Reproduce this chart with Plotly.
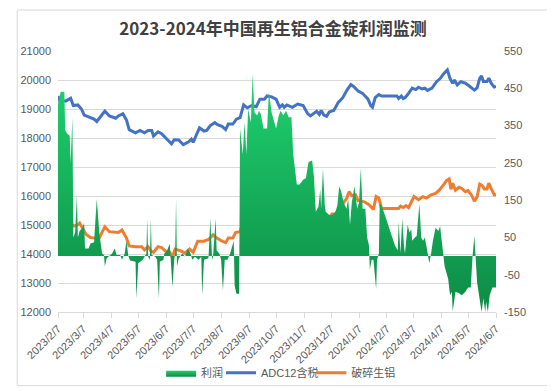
import plotly.graph_objects as go

# ---------------- data ----------------
adc_dates = ["2023-02-07","2023-02-09","2023-02-16","2023-02-21","2023-02-24","2023-03-01","2023-03-05","2023-03-08",
             "2023-03-13","2023-03-19","2023-03-22","2023-03-27","2023-03-31","2023-04-05","2023-04-12","2023-04-15",
             "2023-04-20","2023-04-24","2023-04-27","2023-05-04","2023-05-09","2023-05-14","2023-05-18","2023-05-22",
             "2023-05-24","2023-05-29","2023-06-02","2023-06-06","2023-06-13","2023-06-16","2023-06-21","2023-06-26",
             "2023-07-02","2023-07-05","2023-07-07","2023-07-10","2023-07-14","2023-07-19","2023-07-22","2023-07-26",
             "2023-07-31","2023-08-03","2023-08-08","2023-08-12","2023-08-15","2023-08-20","2023-08-24","2023-08-28",
             "2023-09-01","2023-09-05","2023-09-10","2023-09-15","2023-09-19","2023-09-24","2023-09-27","2023-10-02",
             "2023-10-07","2023-10-11","2023-10-14","2023-10-16","2023-10-19","2023-10-25","2023-10-31","2023-11-06",
             "2023-11-11","2023-11-14","2023-11-18","2023-11-21","2023-11-24","2023-11-26","2023-11-29","2023-12-02",
             "2023-12-05","2023-12-10","2023-12-15","2023-12-20","2023-12-25","2023-12-29","2024-01-01","2024-01-06",
             "2024-01-11","2024-01-17","2024-01-20","2024-01-22","2024-01-25","2024-01-29","2024-02-01","2024-02-18",
             "2024-02-20","2024-02-23","2024-02-25","2024-02-27","2024-03-01","2024-03-06","2024-03-10","2024-03-13",
             "2024-03-17","2024-03-20","2024-03-23","2024-03-28","2024-04-02","2024-04-06","2024-04-10","2024-04-14",
             "2024-04-17","2024-04-20","2024-04-22","2024-04-25","2024-04-29","2024-05-04","2024-05-08","2024-05-11",
             "2024-05-14","2024-05-17","2024-05-20","2024-05-22","2024-05-24","2024-05-28","2024-05-30","2024-06-02",
             "2024-06-05","2024-06-07"]
adc_values = [19450,19280,19280,19370,19120,19140,19000,18790,
              18730,18650,18570,18790,18930,18760,18680,18760,
              18840,18620,18290,18180,18260,18180,18260,18260,
              18070,18210,18150,18020,17800,17940,17930,17770,
              17870,17960,17850,18070,18350,18240,18260,18430,
              18530,18460,18400,18290,18480,18480,18650,18700,
              19140,19040,19120,19080,19340,19340,19450,19420,
              19340,19060,19140,19060,19140,19060,19170,19120,
              18840,18760,18840,18920,18810,18950,18790,18750,
              18900,18950,19230,19390,19670,19840,19780,19620,
              19540,19340,19120,19060,19390,19500,19450,19450,
              19360,19450,19360,19390,19500,19720,19670,19750,
              19690,19720,19640,19720,19940,20050,20220,20350,
              20050,19890,20000,19830,19940,19890,19800,19730,
              19650,19730,20060,20140,19950,19950,20060,19870,
              19760,19780]

scrap_dates = ["2023-02-07","2023-02-09","2023-02-16","2023-02-21","2023-02-23","2023-02-28","2023-03-03","2023-03-06",
               "2023-03-10","2023-03-15","2023-03-20","2023-03-23","2023-03-27","2023-03-31","2023-04-05","2023-04-12",
               "2023-04-15","2023-04-19","2023-04-24","2023-04-27","2023-05-04","2023-05-11","2023-05-14","2023-05-18",
               "2023-05-21","2023-05-24","2023-05-29","2023-06-02","2023-06-06","2023-06-11","2023-06-14","2023-06-17",
               "2023-06-23","2023-06-28","2023-07-03","2023-07-07","2023-07-12","2023-07-19","2023-07-24","2023-07-29",
               "2023-08-01","2023-08-07","2023-08-12","2023-08-15","2023-08-20","2023-08-23","2023-08-28","2023-09-01",
               "2023-09-04","2023-09-10","2023-09-13","2023-09-17","2023-09-20","2023-10-06","2023-10-09","2023-10-12",
               "2023-10-16","2023-10-19","2023-10-23","2023-10-28","2023-10-31","2023-11-04","2023-11-09","2023-11-14",
               "2023-11-18","2023-11-21","2023-11-24","2023-11-28","2023-12-01","2023-12-05","2023-12-08","2023-12-12",
               "2023-12-15","2023-12-20","2023-12-24","2023-12-27","2023-12-30","2024-01-03","2024-01-06","2024-01-13",
               "2024-01-18","2024-01-23","2024-01-26","2024-01-29","2024-02-01","2024-02-20","2024-02-22","2024-02-25",
               "2024-02-28","2024-03-02","2024-03-05","2024-03-08","2024-03-13","2024-03-18","2024-03-22","2024-03-27",
               "2024-04-01","2024-04-05","2024-04-10","2024-04-13","2024-04-16","2024-04-18","2024-04-20","2024-04-23",
               "2024-04-27","2024-04-30","2024-05-04","2024-05-07","2024-05-11","2024-05-14","2024-05-17","2024-05-20",
               "2024-05-23","2024-05-25","2024-05-28","2024-05-30","2024-06-02","2024-06-05","2024-06-07"]
scrap_values = [15380,15160,15160,15270,14960,14990,15070,14910,
                14680,14570,14550,14450,14690,14940,14770,14750,
                14740,14830,14550,14280,14250,14250,14140,14250,
                14110,14060,14250,14220,14110,14060,13890,14170,
                14110,14030,14170,14060,14440,14440,14500,14660,
                14580,14460,14390,14550,14550,14740,14770,15160,
                14850,14850,14940,14850,15160,15160,14990,14850,
                14940,14830,14940,15380,15460,15430,15270,15050,
                15070,15350,15160,15160,15240,15270,15380,15380,
                15540,15760,15900,16150,16010,16040,15840,15800,
                15700,15540,15980,15930,15570,15570,15650,15600,
                15670,15600,15820,15980,15870,15980,15930,16040,
                16090,16200,16390,16530,16590,16230,16440,16200,
                16300,16260,16150,16190,16020,15820,15970,16410,
                16350,16240,16240,16440,16240,16040,16040]

profit_dates = ["2023-02-07","2023-02-10","2023-02-14","2023-02-15","2023-02-17","2023-02-20","2023-02-21","2023-02-23",
                "2023-02-24","2023-02-26","2023-02-28","2023-03-01","2023-03-03","2023-03-06","2023-03-08","2023-03-09",
                "2023-03-13","2023-03-15","2023-03-19","2023-03-22","2023-03-25","2023-03-28","2023-03-30","2023-03-31",
                "2023-04-02","2023-04-05","2023-04-08","2023-04-11","2023-04-13","2023-04-17","2023-04-19","2023-04-22",
                "2023-04-24","2023-04-26","2023-04-28","2023-05-04","2023-05-05","2023-05-07","2023-05-12","2023-05-14",
                "2023-05-16","2023-05-17","2023-05-18","2023-05-20","2023-05-21","2023-05-22","2023-05-26","2023-05-28",
                "2023-05-30","2023-05-31","2023-06-04","2023-06-05","2023-06-08","2023-06-11","2023-06-12","2023-06-14",
                "2023-06-16","2023-06-17","2023-06-18","2023-06-19","2023-06-21","2023-06-25","2023-06-28","2023-07-01",
                "2023-07-04","2023-07-06","2023-07-09","2023-07-13","2023-07-16","2023-07-17","2023-07-19","2023-07-24",
                "2023-07-26","2023-07-28","2023-07-29","2023-08-01","2023-08-02","2023-08-05","2023-08-07","2023-08-09",
                "2023-08-11","2023-08-14","2023-08-17","2023-08-19","2023-08-21","2023-08-22","2023-08-24","2023-08-27",
                "2023-08-28","2023-08-31","2023-09-02","2023-09-04","2023-09-06","2023-09-09","2023-09-11","2023-09-13",
                "2023-09-16","2023-09-18","2023-09-20","2023-09-23","2023-09-27","2023-09-29","2023-10-02","2023-10-07",
                "2023-10-10","2023-10-12","2023-10-15","2023-10-18","2023-10-21","2023-10-24","2023-10-26","2023-10-30",
                "2023-11-02","2023-11-06","2023-11-09","2023-11-12","2023-11-16","2023-11-18","2023-11-20","2023-11-23",
                "2023-11-25","2023-11-26","2023-11-28","2023-11-30","2023-12-01","2023-12-05","2023-12-08","2023-12-12",
                "2023-12-14","2023-12-16","2023-12-18","2023-12-21","2023-12-24","2023-12-26","2023-12-28","2023-12-30",
                "2024-01-02","2024-01-05","2024-01-07","2024-01-09","2024-01-11","2024-01-14","2024-01-16","2024-01-18",
                "2024-01-19","2024-01-21","2024-01-23","2024-01-26","2024-01-27","2024-01-29","2024-01-30","2024-02-01",
                "2024-02-03","2024-02-06","2024-02-10","2024-02-13","2024-02-16","2024-02-19","2024-02-20","2024-02-22",
                "2024-02-24","2024-02-26","2024-02-27","2024-03-01","2024-03-03","2024-03-05","2024-03-06","2024-03-09",
                "2024-03-11","2024-03-14","2024-03-16","2024-03-18","2024-03-20","2024-03-22","2024-03-23","2024-03-25",
                "2024-03-27","2024-03-29","2024-04-01","2024-04-04","2024-04-06","2024-04-08","2024-04-10","2024-04-11",
                "2024-04-13","2024-04-15","2024-04-17","2024-04-19","2024-04-20","2024-04-22","2024-04-23","2024-04-27",
                "2024-04-30","2024-05-04","2024-05-07","2024-05-10","2024-05-11","2024-05-12","2024-05-14","2024-05-15",
                "2024-05-17","2024-05-20","2024-05-22","2024-05-24","2024-05-26","2024-05-27","2024-05-29","2024-05-31",
                "2024-06-03","2024-06-07"]
profit_values = [407,441,441,338,329,323,248,372,
                 50,63,162,50,67,76,89,20,
                 20,34,37,153,58,7,3,-28,
                 -6,0,7,20,3,3,-10,7,
                 41,0,-12,-15,-114,-19,-10,-2,
                 7,101,-2,-10,101,3,-2,-10,
                 -114,-15,-10,7,15,33,-10,-83,
                 -10,7,153,-28,-6,7,-2,20,
                 7,-10,-2,-10,-2,-105,-10,-6,
                 101,-10,-2,101,15,7,-10,-92,
                 -10,-10,7,28,41,-79,-101,-101,
                 342,273,359,273,394,359,488,385,
                 377,390,381,342,342,441,385,342,
                 377,390,377,390,372,372,273,192,
                 192,205,209,252,256,213,119,132,
                 179,127,235,136,119,110,110,119,
                 136,187,175,144,127,153,84,144,
                 187,127,144,235,127,127,50,30,
                 -36,-10,-10,-88,-10,7,140,136,
                 123,101,71,50,28,15,93,7,
                 101,24,7,84,63,71,41,50,
                 54,140,50,41,50,24,7,-19,
                 7,41,76,67,80,41,0,-28,
                 -45,-62,-105,-96,-148,-105,-96,-100,
                 -105,-96,-84,-84,-36,0,54,0,
                 -70,-118,-150,-113,-150,-122,-150,-105,
                 -84,-84]

tick_dates = ["2023-02-07","2023-03-07","2023-04-07","2023-05-07","2023-06-07","2023-07-07","2023-08-07",
              "2023-09-07","2023-10-07","2023-11-07","2023-12-07","2024-01-07","2024-02-07","2024-03-07",
              "2024-04-07","2024-05-07","2024-06-07"]
tick_labels = ["2023/2/7","2023/3/7","2023/4/7","2023/5/7","2023/6/7","2023/7/7","2023/8/7",
               "2023/9/7","2023/10/7","2023/11/7","2023/12/7","2024/1/7","2024/2/7","2024/3/7",
               "2024/4/7","2024/5/7","2024/6/7"]
left_ticks = [12000, 13000, 14000, 15000, 16000, 17000, 18000, 19000, 20000, 21000]
left_labels = ["12000", "13000", "14000", "15000", "16000", "17000", "18000", "19000", "20000", "21000"]
right_ticks = [-150, -50, 50, 150, 250, 350, 450, 550]
right_labels = ["-150", "-50", "50", "150", "250", "350", "450", "550"]

series_names = ["利润", "ADC12含税", "破碎生铝"]
title_text = "2023-2024年中国再生铝合金锭利润监测"

# ---------------- figure ----------------
FONT = "Liberation Sans, Noto Sans CJK SC, sans-serif"
GREY = "#595959"
ML, MR, MT, MB = 42, 67, 43, 77
W, H = 555, 391
PW, PH = W - ML - MR, H - MT - MB


def px_x(px):
    return (px - ML) / PW


LEG_Y = 1 - (377 - MT) / PH

fig = go.Figure()
fig.add_trace(go.Scatter(
    x=profit_dates, y=profit_values, name=series_names[0], yaxis="y2", legend="legend",
    mode="lines", line=dict(width=0, color="#13a556"),
    fill="tozeroy", fillcolor="#14b05c",
    fillgradient=dict(type="vertical",
                      colorscale=[[0, "#0d8a45"], [0.3, "#12a052"], [1, "#1fd26f"]]),
))
fig.add_trace(go.Scatter(
    x=adc_dates, y=adc_values, name=series_names[1], legend="legend2",
    mode="lines", line=dict(color="#4472C4", width=3),
))
fig.add_trace(go.Scatter(
    x=scrap_dates, y=scrap_values, name=series_names[2], legend="legend3",
    mode="lines", line=dict(color="#ED7D31", width=3),
))

leg_common = dict(orientation="h", xanchor="left", yanchor="middle", y=LEG_Y,
                  font=dict(size=11, color=GREY), itemwidth=30, bgcolor="rgba(0,0,0,0)")

fig.update_layout(
    width=W, height=H,
    margin=dict(l=ML, r=MR, t=MT, b=MB),
    paper_bgcolor="white", plot_bgcolor="white",
    font=dict(family=FONT, size=11, color=GREY),
    title=dict(text="<b>" + title_text + "</b>", x=(ML + PW / 2) / W, xanchor="center", y=0.945, yanchor="middle",
               font=dict(family="Noto Sans CJK SC, sans-serif", size=17, color="#404040")),
    showlegend=True,
    legend=dict(x=px_x(147), **leg_common),
    legend2=dict(x=px_x(208), **leg_common),
    legend3=dict(x=px_x(300), **leg_common),
    xaxis=dict(type="date", range=[tick_dates[0], tick_dates[-1]],
               tickvals=tick_dates, ticktext=tick_labels, tickangle=-45,
               showgrid=False, showline=True, linecolor="#d9d9d9", linewidth=1,
               ticks="outside", ticklen=5, tickcolor="#d9d9d9",
               tickfont=dict(size=11, color=GREY)),
    yaxis=dict(range=[12000, 21000], tickvals=left_ticks, ticktext=left_labels,
               showgrid=True, gridcolor="#d9d9d9", ticklabelstandoff=6,
               gridwidth=1, zeroline=False, showline=False, tickfont=dict(size=11, color=GREY)),
    yaxis2=dict(range=[-150, 550], tickvals=right_ticks, ticktext=right_labels,
                overlaying="y", side="right", ticklabelstandoff=7,
                showgrid=False, zeroline=False, showline=False, tickfont=dict(size=11, color=GREY)),
    shapes=[dict(type="rect", xref="paper", yref="paper",
                 x0=(0.5 - ML) / PW, x1=(W - 0.5 - ML) / PW,
                 y0=1 - (H - 0.5 - MT) / PH, y1=1 + (MT - 0.5) / PH,
                 line=dict(color="#d9d9d9", width=1), fillcolor="rgba(0,0,0,0)", layer="below")],
)

fig.write_html("out.html")
